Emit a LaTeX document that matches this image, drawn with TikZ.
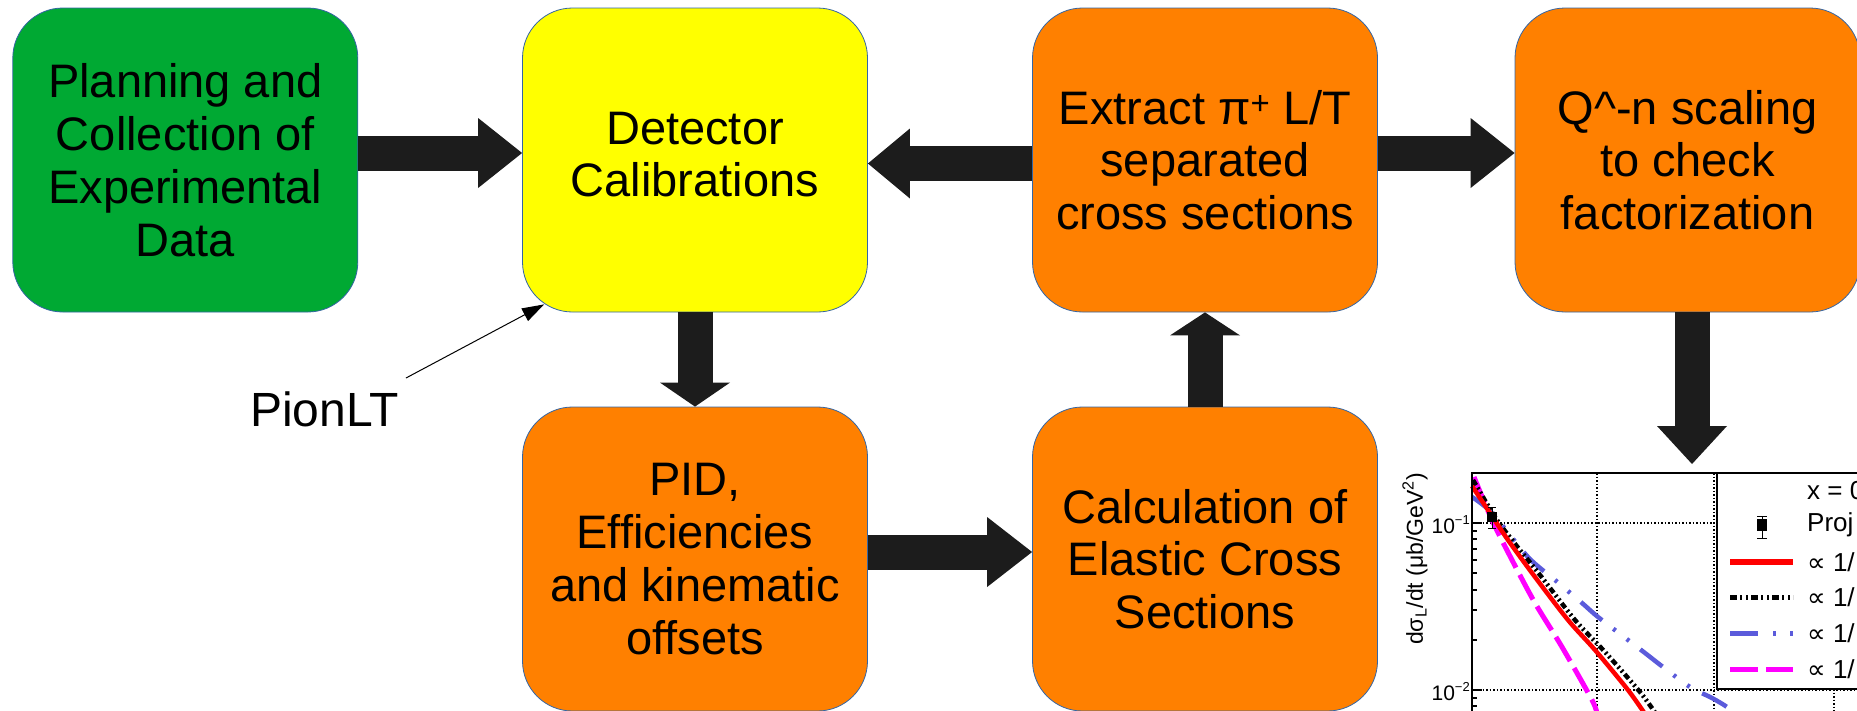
\documentclass[tikz,border=0pt]{standalone}
\usepackage{fontspec}
\setmainfont{Liberation Sans}
\newfontfamily\symfont{DejaVu Sans}
\usetikzlibrary{arrows.meta,calc}
\definecolor{boxgreen}{HTML}{00A933}
\definecolor{boxyellow}{HTML}{FFFF00}
\definecolor{boxorange}{HTML}{FF8000}
\definecolor{boxline}{HTML}{3465A4}
\definecolor{arrowfill}{HTML}{1C1C1C}
\definecolor{curveblue}{HTML}{5B5BDB}
\definecolor{curvemagenta}{HTML}{FF00FF}
\begin{document}
\begin{tikzpicture}[x=1pt,y=-1pt,
  box/.style={draw=boxline, line width=0.8pt, rounded corners=50pt,
    minimum width=345pt, minimum height=304pt, inner sep=0pt, align=center,
    font=\fontsize{47}{52.8}\selectfont},
  bigarrow/.style={draw=arrowfill, line width=35pt,
    -{Triangle[length=#1, width=70pt, line width=0pt]}},
  thinarrow/.style={draw=black, line width=1pt, -{Triangle[length=22pt, width=14pt]}},
  gridline/.style={black, line width=1.2pt, dash pattern=on 1.5pt off 2pt},
  majortick/.style={black, line width=1.2pt},
  legtext/.style={anchor=west, inner sep=0pt, font=\fontsize{26}{26}\selectfont},
  ticklabel/.style={anchor=east, inner sep=0pt, font=\fontsize{21}{21}\selectfont},
  redcurve/.style={red, line width=4.5pt},
  blackcurve/.style={black, line width=4.5pt, dash pattern=on 6pt off 3pt on 2pt off 3pt on 2pt off 3pt},
  bluecurve/.style={curveblue, line width=4.5pt, dash pattern=on 28pt off 14pt on 3pt off 14pt on 3pt off 14pt},
  magentacurve/.style={curvemagenta, line width=5pt, dash pattern=on 28pt off 8pt}
]
\useasboundingbox (0,0) rectangle (1857,710);
\begin{scope}
\clip (0,0) rectangle (1857,710);

% ---------- boxes ----------
\node[box, fill=boxgreen] (plan) at (185.3,160) {Planning and\\Collection of\\Experimental\\Data};
\node[box, fill=boxyellow] (calib) at (695,160) {\raisebox{4pt}{\begin{tabular}{@{}c@{}}Detector\\Calibrations\end{tabular}}};
\node[box, fill=boxorange] (extract) at (1205,160) {Extract π\textsuperscript{+} L/T\\separated\\cross sections};
\node[box, fill=boxorange] (qscale) at (1687.5,160) {Q\textasciicircum-n scaling\\to check\\factorization};
\node[box, fill=boxorange] (pid) at (695,559) {PID,\\Efficiencies\\and kinematic\\offsets};
\node[box, fill=boxorange] (calc) at (1205,559) {Calculation of\\Elastic Cross\\Sections};

% ---------- block arrows ----------
\draw[bigarrow=44pt] (plan.east |- 0,153) -- (calib.west |- 0,153);
\draw[bigarrow=42pt] (extract.west |- 0,163.5) -- (calib.east |- 0,163.5);
\draw[bigarrow=44pt] (extract.east |- 0,153) -- (qscale.west |- 0,153);
\draw[bigarrow=24pt] (calib.south) -- (pid.north);
\draw[bigarrow=45pt] (pid.east |- 0,552) -- (calc.west |- 0,552);
\draw[bigarrow=23pt] (calc.north) -- (extract.south);
\coordinate (plottip) at (1692,464);
\draw[bigarrow=38pt] (qscale.south -| plottip) -- (plottip);

% ---------- PionLT ----------
\node[anchor=base, inner sep=0pt, font=\fontsize{48}{52.8}\selectfont] (pion) at (324.5,426) {PionLT};
\draw[thinarrow] ($(pion.north east)+(7,-13)$) -- ($(calib.south west)+(22,-8)$);

% ---------- plot ----------
\draw[gridline] (1597,473) -- (1597,712);
\draw[gridline] (1714,473) -- (1714,712);
\draw[gridline] (1834,689) -- (1834,712);
\draw[gridline] (1472,523) -- (1717,523);
\draw[gridline] (1472,690) -- (1860,690);

\draw[magentacurve] plot[smooth] coordinates {(1474,477) (1492,520) (1512,560) (1535,603) (1562,647) (1592,700) (1597,714)};
\draw[bluecurve] plot[smooth] coordinates {(1472,497) (1492,513) (1528,557) (1555,580) (1582,603) (1598,617) (1628,640) (1645,653) (1663,667) (1690,687) (1712,698) (1727,707) (1734,714)};
\draw[blackcurve] plot[smooth] coordinates {(1473,480) (1495,517) (1512,540) (1540,575) (1575,620) (1605,652) (1640,692) (1656,714)};
\draw[redcurve] plot[smooth] coordinates {(1472,486) (1492,516) (1508,540) (1535,577) (1568,620) (1595,650) (1628,690) (1645,714)};

% data point
\fill[black] (1487,512) rectangle (1497,522);
\draw[black, line width=1pt] (1492,507) -- (1492,528) (1488,507) -- (1496,507) (1488,528) -- (1496,528);

% legend
\draw[black, line width=2pt, fill=white] (1717,473) rectangle (1880,689);
\node[legtext] (legx) at (1807,491) {x = 0};
\fill[black] (1757,519) rectangle (1767,531);
\draw[black, line width=1pt] (1762,516) -- (1762,538) (1757,516) -- (1767,516) (1757,538) -- (1767,538);
\node[legtext] (legproj) at (1807,525) {Proj};
\draw[red, line width=6pt] (1730,562) -- (1793,562);
\node[legtext] (legred) at (1807,562) {{\symfont ∝} 1/};
\draw[black, line width=5pt, dash pattern=on 7pt off 3pt on 2pt off 4pt on 2pt off 3pt] (1730,597) -- (1793,597);
\node[legtext] (legblack) at (1807,597) {{\symfont ∝} 1/};
\draw[curveblue, line width=5pt, dash pattern=on 28pt off 15pt on 3pt off 14pt on 3pt off 14pt] (1730,633) -- (1793,633);
\node[legtext] (legblue) at (1807,633) {{\symfont ∝} 1/};
\draw[curvemagenta, line width=5pt, dash pattern=on 28pt off 8pt] (1730,669) -- (1793,669);
\node[legtext] (legmag) at (1807,669) {{\symfont ∝} 1/};

% frame and ticks
\draw[black, line width=1.5pt] (1472,714) -- (1472,473) -- (1860,473);
\foreach \yy in {523,690} \draw[majortick] (1472,\yy) -- (1482,\yy);
\foreach \yy in {531,539,549,560,573,590,610,640,698,706} \draw[majortick] (1472,\yy) -- (1477,\yy);

\node[ticklabel] (tl1) at (1470,525) {10\raisebox{9pt}{\fontsize{13}{13}\selectfont −1}};
\node[ticklabel] (tl2) at (1470,692) {10\raisebox{9pt}{\fontsize{13}{13}\selectfont −2}};
\node[rotate=90, inner sep=0pt, font=\fontsize{23}{23}\selectfont] (ylab) at (1415,559) {dσ\textsubscript{L}/dt (μb/GeV\textsuperscript{2})};
\end{scope}
\end{tikzpicture}
\end{document}
